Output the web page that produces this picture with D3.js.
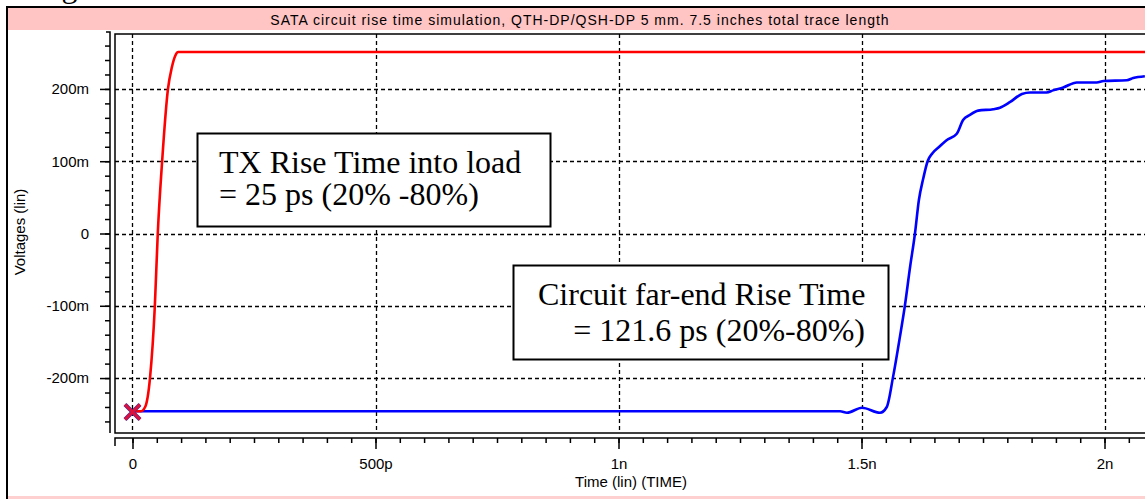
<!DOCTYPE html>
<html>
<head>
<meta charset="utf-8">
<script src="https://cdn.jsdelivr.net/npm/d3@7"></script>
<style>
  html, body { margin: 0; padding: 0; background: #ffffff; }
  svg { display: block; }
</style>
</head>
<body>
<svg id="chart" width="1145" height="499"></svg>
<script>
// ---- data (time in ns, voltage in mV) ----
const chartTitle = "SATA circuit rise time simulation, QTH-DP/QSH-DP 5 mm. 7.5 inches total trace length";
const xTickValues = [0, 0.5, 1, 1.5, 2];
const xTickLabels = ["0", "500p", "1n", "1.5n", "2n"];
const yTickValues = [-200, -100, 0, 100, 200];
const yTickLabels = ["-200m", "-100m", "0", "100m", "200m"];
const xAxisTitle = "Time (lin) (TIME)";
const yAxisTitle = "Voltages (lin)";

const redTime = [0, 0.017, 0.026, 0.036, 0.046, 0.052, 0.061, 0.073, 0.081, 0.088, 0.094, 2.1];
const redVolt = [-246, -246, -240, -200, -100, 0, 100, 200, 230, 246, 251, 251];

const blueTime = [0, 1.456, 1.470, 1.501, 1.538, 1.552, 1.565, 1.579, 1.589, 1.600, 1.610, 1.618, 1.627, 1.636, 1.646, 1.660, 1.675, 1.696, 1.709, 1.723, 1.740, 1.771, 1.785, 1.806, 1.830, 1.847, 1.881, 1.894, 1.915, 1.943, 1.984, 1.998, 2.046, 2.059, 2.083];
const blueVolt = [-246, -246, -248, -241, -248, -240, -198, -143, -101, -46, 0, 46, 76, 100, 111, 120, 129, 138, 157, 164, 170, 172, 174, 182, 193, 195, 195, 198, 202, 209, 209, 211, 212, 215, 217.5];

const markerTime = [0];
const markerVolt = [-247];

const note1Lines = ["TX Rise Time into load", "= 25 ps (20% -80%)"];
const note2Lines = ["Circuit far-end Rise Time", "= 121.6 ps (20%-80%)"];

// ---- layout ----
const svg = d3.select("#chart");
const W = 1145, H = 499;
const plotL = 115, plotT = 34, plotB = 433, plotR = 1145;

const x = d3.scaleLinear().domain([-0.036, 2.0833]).range([plotL, plotR]);
const y = d3.scaleLinear().domain([-276, 276]).range([plotB, plotT]);

// document text fragment at top (mostly cut off)
svg.append("text").attr("x", 42).attr("y", -3)
  .attr("font-family", "Liberation Serif, Times New Roman, serif")
  .attr("font-size", 32).attr("fill", "#000").text("figure below.");

// outer frame + title bar
svg.append("rect").attr("x", 8).attr("y", 8).attr("width", W - 8).attr("height", 22).attr("fill", "#ffc4c4");
svg.append("rect").attr("x", 8).attr("y", 496).attr("width", W - 8).attr("height", 3).attr("fill", "#ffd0d0");
svg.append("line").attr("x1", 7).attr("x2", W).attr("y1", 7).attr("y2", 7).attr("stroke", "#000").attr("stroke-width", 2);
svg.append("line").attr("x1", 7).attr("x2", 7).attr("y1", 6).attr("y2", H).attr("stroke", "#000").attr("stroke-width", 2);
svg.append("text").attr("x", 580).attr("y", 25).attr("text-anchor", "middle")
  .attr("font-family", "Liberation Sans, Arial, sans-serif").attr("font-size", 14)
  .attr("letter-spacing", 1).attr("fill", "#000").text(chartTitle);

// plot frame
svg.append("rect").attr("x", plotL).attr("y", plotT).attr("width", plotR - plotL + 5).attr("height", plotB - plotT)
  .attr("fill", "#fff").attr("stroke", "#000").attr("stroke-width", 1.5);

// grid
const grid = svg.append("g");
grid.selectAll("line.v").data(xTickValues).join("line")
  .attr("x1", d => Math.round(x(d)) + 0.5).attr("x2", d => Math.round(x(d)) + 0.5)
  .attr("y1", plotT).attr("y2", plotB)
  .attr("stroke", "#000").attr("stroke-width", 1.3).attr("stroke-dasharray", "4,3");
grid.selectAll("line.h").data(yTickValues).join("line")
  .attr("y1", d => Math.round(y(d)) + 0.5).attr("y2", d => Math.round(y(d)) + 0.5)
  .attr("x1", plotL).attr("x2", plotR)
  .attr("stroke", "#000").attr("stroke-width", 1.3).attr("stroke-dasharray", "4,3");

const axisFont = "Liberation Sans, Arial, sans-serif";
const axisFontSize = 15;

// y axis (minor + major)
const yMinor = d3.range(-260, 261, 20);
const yAxisG = svg.append("g").attr("transform", "translate(110,0)");
yAxisG.call(d3.axisLeft(y).tickValues(yMinor).tickSize(5).tickFormat(""));
yAxisG.select(".domain").remove();
const yMajorG = svg.append("g").attr("transform", "translate(110,0)");
yMajorG.call(d3.axisLeft(y).tickValues(yTickValues).tickSize(10).tickPadding(11)
  .tickFormat((d, i) => yTickLabels[i]));
yMajorG.select(".domain").remove();
yMajorG.selectAll("text").attr("font-family", axisFont).attr("font-size", axisFontSize).attr("fill", "#000");
svg.append("path").attr("d", `M106,${plotT - 2}H110V${plotB}`).attr("fill", "none").attr("stroke", "#000").attr("stroke-width", 1.5);
[yAxisG, yMajorG].forEach(g => g.selectAll("line").attr("stroke", "#000").attr("stroke-width", 1.5));

// x axis
const xMinor = d3.range(0, 2.08, 0.05);
const xAxisG = svg.append("g").attr("transform", "translate(0,438)");
xAxisG.call(d3.axisBottom(x).tickValues(xMinor).tickSize(5).tickFormat(""));
xAxisG.select(".domain").remove();
const xMajorG = svg.append("g").attr("transform", "translate(0,438)");
xMajorG.call(d3.axisBottom(x).tickValues(xTickValues).tickSize(11).tickPadding(9)
  .tickFormat((d, i) => xTickLabels[i]));
xMajorG.select(".domain").remove();
xMajorG.selectAll("text").attr("font-family", axisFont).attr("font-size", axisFontSize).attr("fill", "#000");
svg.append("path").attr("d", `M${plotL},446V438H${plotR}`).attr("fill", "none").attr("stroke", "#000").attr("stroke-width", 1.5);
[xAxisG, xMajorG].forEach(g => g.selectAll("line").attr("stroke", "#000").attr("stroke-width", 1.5));

// axis titles
svg.append("text").attr("x", 631).attr("y", 487).attr("text-anchor", "middle")
  .attr("font-family", axisFont).attr("font-size", axisFontSize).attr("fill", "#000").text(xAxisTitle);
svg.append("text").attr("transform", "translate(25,232) rotate(-90)").attr("text-anchor", "middle")
  .attr("font-family", axisFont).attr("font-size", axisFontSize).attr("fill", "#000").text(yAxisTitle);

// clip
svg.append("clipPath").attr("id", "plotclip").append("rect")
  .attr("x", plotL + 1).attr("y", plotT + 1).attr("width", plotR - plotL).attr("height", plotB - plotT - 2);

const line = d3.line().x(d => x(d[0])).y(d => y(d[1])).curve(d3.curveMonotoneX);
const lines = svg.append("g").attr("clip-path", "url(#plotclip)");
lines.append("path").datum(blueTime.map((t, i) => [t, blueVolt[i]]))
  .attr("d", line).attr("fill", "none").attr("stroke", "#0000ff").attr("stroke-width", 2.6);
lines.append("path").datum(redTime.map((t, i) => [t, redVolt[i]]))
  .attr("d", line).attr("fill", "none").attr("stroke", "#ff0000").attr("stroke-width", 2.6);

// marker
const mk = svg.append("g");
markerTime.forEach((t, i) => {
  const cx = x(t), cy = y(markerVolt[i]), r = 7.5;
  const p = `M${cx - r},${cy - r}L${cx + r},${cy + r}M${cx - r},${cy + r}L${cx + r},${cy - r}`;
  mk.append("path").attr("d", p).attr("stroke", "#5a2a8a").attr("stroke-width", 4.2).attr("fill", "none");
  mk.append("path").attr("d", p).attr("stroke", "#e0103a").attr("stroke-width", 2.6).attr("fill", "none");
});

// annotations
const serif = "Liberation Serif, Times New Roman, serif";
svg.append("rect").attr("x", 197.5).attr("y", 133.5).attr("width", 353).attr("height", 93)
  .attr("fill", "#fff").attr("stroke", "#000").attr("stroke-width", 2);
svg.append("text").attr("x", 219).attr("y", 173).attr("font-family", serif).attr("font-size", 32)
  .attr("fill", "#000").text(note1Lines[0]);
svg.append("text").attr("x", 219).attr("y", 205).attr("font-family", serif).attr("font-size", 32)
  .attr("fill", "#000").text(note1Lines[1]);

svg.append("rect").attr("x", 513.5).attr("y", 265.5).attr("width", 375).attr("height", 94)
  .attr("fill", "#fff").attr("stroke", "#000").attr("stroke-width", 2);
svg.append("text").attr("x", 538).attr("y", 305).attr("font-family", serif).attr("font-size", 32)
  .attr("fill", "#000").text(note2Lines[0]);
svg.append("text").attr("x", 865).attr("y", 341).attr("text-anchor", "end").attr("font-family", serif).attr("font-size", 32)
  .attr("fill", "#000").text(note2Lines[1]);
</script>
</body>
</html>
